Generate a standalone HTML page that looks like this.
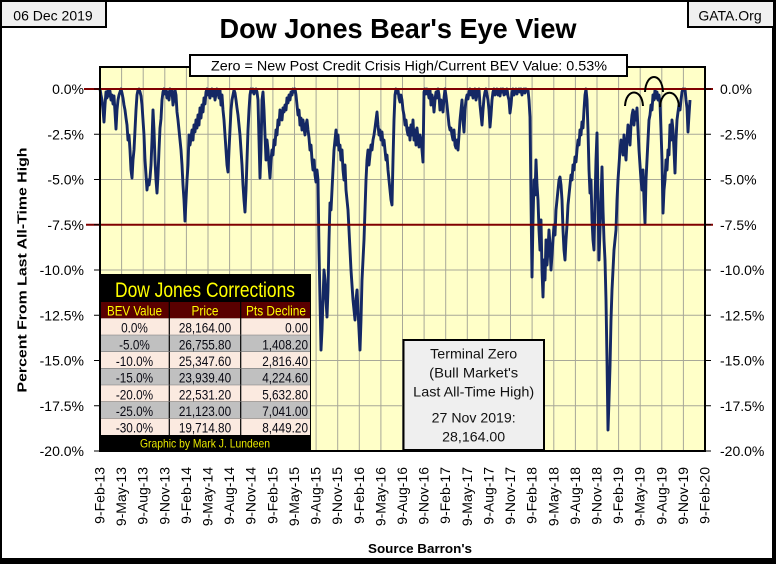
<!DOCTYPE html>
<html><head><meta charset="utf-8"><style>
html,body{margin:0;padding:0;background:#fff;}
svg{display:block;font-family:"Liberation Sans",Arial,sans-serif;}
</style></head><body>
<svg width="776" height="564" viewBox="0 0 776 564" xmlns="http://www.w3.org/2000/svg">
<rect x="0" y="0" width="776" height="564" fill="#fff"/>
<!-- outer border -->
<rect x="1" y="1" width="772" height="559" fill="none" stroke="#000" stroke-width="2"/>
<rect x="772" y="0" width="4" height="564" fill="#000"/>
<rect x="0" y="558" width="776" height="6" fill="#000"/>

<!-- header boxes -->
<rect x="1" y="1" width="105" height="26" fill="#f0f0f0" stroke="#000" stroke-width="2"/>
<text x="53" y="20.5" font-size="14" text-anchor="middle" fill="#000">06 Dec 2019</text>
<rect x="688" y="1" width="86" height="26" fill="#f0f0f0" stroke="#000" stroke-width="2"/>
<text x="730" y="20.5" font-size="14" text-anchor="middle" fill="#000">GATA.Org</text>
<text x="398" y="38" font-size="28" font-weight="bold" text-anchor="middle" textLength="357" lengthAdjust="spacingAndGlyphs">Dow Jones Bear's Eye View</text>

<!-- plot area -->
<rect x="100" y="67" width="605" height="384" fill="#FFFFC8"/>
<g stroke="#a8a898" stroke-width="1">
<line x1="121.6" y1="67" x2="121.6" y2="451"/><line x1="143.2" y1="67" x2="143.2" y2="451"/><line x1="164.8" y1="67" x2="164.8" y2="451"/><line x1="186.4" y1="67" x2="186.4" y2="451"/><line x1="208" y1="67" x2="208" y2="451"/><line x1="229.6" y1="67" x2="229.6" y2="451"/><line x1="251.2" y1="67" x2="251.2" y2="451"/><line x1="272.9" y1="67" x2="272.9" y2="451"/><line x1="294.5" y1="67" x2="294.5" y2="451"/><line x1="316.1" y1="67" x2="316.1" y2="451"/><line x1="337.7" y1="67" x2="337.7" y2="451"/><line x1="359.3" y1="67" x2="359.3" y2="451"/><line x1="380.9" y1="67" x2="380.9" y2="451"/><line x1="402.5" y1="67" x2="402.5" y2="451"/><line x1="424.1" y1="67" x2="424.1" y2="451"/><line x1="445.7" y1="67" x2="445.7" y2="451"/><line x1="467.3" y1="67" x2="467.3" y2="451"/><line x1="488.9" y1="67" x2="488.9" y2="451"/><line x1="510.5" y1="67" x2="510.5" y2="451"/><line x1="532.1" y1="67" x2="532.1" y2="451"/><line x1="553.8" y1="67" x2="553.8" y2="451"/><line x1="575.4" y1="67" x2="575.4" y2="451"/><line x1="597" y1="67" x2="597" y2="451"/><line x1="618.6" y1="67" x2="618.6" y2="451"/><line x1="640.2" y1="67" x2="640.2" y2="451"/><line x1="661.8" y1="67" x2="661.8" y2="451"/><line x1="683.4" y1="67" x2="683.4" y2="451"/>
<line x1="100" y1="134.25" x2="705" y2="134.25"/><line x1="100" y1="179.5" x2="705" y2="179.5"/><line x1="100" y1="270" x2="705" y2="270"/><line x1="100" y1="315.25" x2="705" y2="315.25"/><line x1="100" y1="360.5" x2="705" y2="360.5"/><line x1="100" y1="405.75" x2="705" y2="405.75"/>
</g>

<!-- series -->
<polyline fill="none" stroke="#142864" stroke-width="2.9" stroke-linejoin="round" points="
100,89 101,95 102,100 103,110 104,122 105,105 106,92 107,98 108,90 109,96 110,91 111,100 112,95 113,104 114,96 115,112 116,129 117,110 118,100 119,95 120,92 121,89 122,93 123,98 124,105 125,110 126,118 127,125 128,140 129,135 130,150 131,170 132,178 133,160 134,150 135,130 136,110 137,95 138,90 139,89 140,92 141,96 142,105 143,120 144,135 145,160 146,175 147,190 148,180 149,185 150,178 151,165 152,140 153,110 154,130 155,160 156,180 157,193 158,175 159,150 160,128 161,119 162,100 163,92 164,89 165,94 166,90 167,98 168,92 169,100 170,89 171,95 172,91 173,105 174,99 175,90 176,95 177,112 178,120 179,130 180,140 181,150 182,165 183,185 184,200 185,221 186,200 187,180 188,165 189,135 190,145 191,138 192,130 193,140 194,125 195,132 196,120 197,128 198,115 199,125 200,108 201,118 202,105 203,112 204,98 205,104 206,92 207,89 208,95 209,90 210,98 211,92 212,89 213,96 214,90 215,100 216,94 217,89 218,92 219,98 220,90 221,105 222,95 223,110 224,120 225,135 226,150 227,165 228,172 229,150 230,130 231,110 232,100 233,95 234,90 235,93 236,100 237,108 238,115 239,125 240,135 241,150 242,165 243,185 244,200 245,212 246,190 247,160 248,130 249,110 250,95 251,89 252,92 253,89 254,94 255,90 256,89 257,92 258,100 259,140 260,178
261,150 262,100 263,92 264,110 265,135 266,160 267,140 268,150 269,165 270,178 271,160 272,150 273,155 274,140 275,145 276,130 277,135 278,120 279,125 280,110 281,115 282,120 283,108 284,112 285,105 286,110 287,98 288,103 289,95 290,100 291,92 292,95 293,89 294,92 295,89 296,95 297,105 298,115 299,110 300,125 301,118 302,130 303,120 304,128 305,135 306,125 307,120 308,130 309,138 310,150 311,145 312,160 313,170 314,160 315,175 316,182 317,170 318,180 319,250 320,300 321,350 322,330 323,300 324,270 325,280 326,300 327,317 328,290 329,240 330,203 331,210 332,190 333,170 334,150 335,140 336,130 337,145 338,135 339,150 340,145 341,160 342,150 343,170 344,180 345,165 346,190 347,200 348,210 349,230 350,250 351,270 352,285 353,300 354,310 355,320 356,300 357,290 358,310 359,330 360,350 361,320 362,280 363,260 364,240 365,210 366,180 367,160 368,150 369,165 370,155 371,145 372,150 373,140 374,135 375,128 376,120 377,112 378,125 379,135 380,130 381,140 382,132 383,145 384,140 385,150 386,160 387,155 388,170 389,180 390,190 391,200 392,205 393,160 394,120 395,95 396,89 397,93 398,90 399,98 400,102 401,95 402,100 403,110 404,115 405,125 406,120 407,130 408,135 409,128 410,140
411,125 412,135 413,120 414,140 415,130 416,145 417,128 418,138 419,147 420,135 421,140 422,150 423,162 424,92 425,89 426,94 427,89 428,92 429,98 430,90 431,105 432,95 433,100 434,112 435,100 436,92 437,98 438,89 439,95 440,110 441,100 442,105 443,112 444,98 445,89 446,96 447,105 448,115 449,125 450,130 451,128 452,135 453,140 454,130 455,145 456,148 457,140 458,150 459,135 460,120 461,110 462,100 463,120 464,132 465,110 466,100 467,95 468,99 469,92 470,89 471,95 472,90 473,98 474,92 475,89 476,100 477,95 478,90 479,89 480,105 481,115 482,125 483,110 484,98 485,92 486,89 487,95 488,100 489,110 490,127 491,115 492,100 493,92 494,89 495,95 496,91 497,89 498,95 499,90 500,96 501,89 502,92 503,89 504,95 505,90 506,94 507,89 508,96 509,100 510,113 511,105 512,93 513,89 514,95 515,91 516,89 517,94 518,90 519,89 520,92 521,89 522,95 523,90 524,89 525,93 526,89 527,91 528,90 529,100 530,117 531,200 532,277 533,220 534,180 535,195 536,160 537,185 538,200 539,230 540,250 541,220 542,270 543,297 544,260 545,280 546,240 547,265 548,250 549,230 550,245 551,270 552,255 553,240 554,225 555,235 556,210 557,200 558,190 559,180 560,177
561,185 562,200 563,230 564,250 565,260 566,240 567,225 568,205 569,195 570,185 571,175 572,180 573,165 574,170 575,157 576,162 577,150 578,140 579,145 580,130 581,135 582,122 583,128 584,110 585,95 586,89 587,100 588,130 589,170 590,193 591,180 592,220 593,240 594,250 595,200 596,160 597,133 598,200 599,260 600,230 601,200 602,167 603,210 604,240 605,260 606,300 607,360 608,430 609,400 610,367 611,320 612,290 613,270 614,250 615,240 616,230 617,200 618,180 619,165 620,150 621,140 622,145 623,155 624,135 625,150 626,160 627,140 628,125 629,135 630,145 631,125 632,115 633,110 634,125 635,112 636,120 637,108 638,130 639,150 640,165 641,180 642,190 643,170 644,200 645,223 646,180 647,160 648,140 649,120 650,115 651,105 652,110 653,95 654,100 655,90 656,98 657,92 658,100 659,95 660,103 661,130 662,160 663,213 664,190 665,180 666,160 667,170 668,150 669,155 670,125 671,140 672,120 673,130 674,150 675,173 676,140 677,120 678,112 679,105 680,110 681,100 682,92 683,89 684,90 685,89 686,100 687,108 688,132 689,115 690,100"/>

<!-- red reference lines -->
<line x1="84" y1="89" x2="713" y2="89" stroke="#800000" stroke-width="2"/>
<line x1="86" y1="224.75" x2="713" y2="224.75" stroke="#800000" stroke-width="2"/>

<!-- arcs -->
<g fill="none" stroke="#000" stroke-width="2">
<path d="M625,106 C626,88 642,88 643,106"/>
<path d="M645,92 C646,72 662,72 663,92"/>
<path d="M660,107 C661,88 678,88 679,107"/>
</g>

<!-- plot border -->
<rect x="100" y="67" width="605" height="384" fill="none" stroke="#000" stroke-width="2"/>

<!-- ticks -->
<g stroke="#000" stroke-width="1">
<line x1="94" y1="89" x2="100" y2="89"/><line x1="94" y1="134.25" x2="100" y2="134.25"/><line x1="94" y1="179.5" x2="100" y2="179.5"/><line x1="94" y1="224.75" x2="100" y2="224.75"/><line x1="94" y1="270" x2="100" y2="270"/><line x1="94" y1="315.25" x2="100" y2="315.25"/><line x1="94" y1="360.5" x2="100" y2="360.5"/><line x1="94" y1="405.75" x2="100" y2="405.75"/><line x1="94" y1="451" x2="100" y2="451"/>
<line x1="705" y1="89" x2="711" y2="89"/><line x1="705" y1="134.25" x2="711" y2="134.25"/><line x1="705" y1="179.5" x2="711" y2="179.5"/><line x1="705" y1="224.75" x2="711" y2="224.75"/><line x1="705" y1="270" x2="711" y2="270"/><line x1="705" y1="315.25" x2="711" y2="315.25"/><line x1="705" y1="360.5" x2="711" y2="360.5"/><line x1="705" y1="405.75" x2="711" y2="405.75"/><line x1="705" y1="451" x2="711" y2="451"/>
</g>

<!-- left y labels -->
<g font-size="14" text-anchor="end" fill="#000">
<text x="84" y="94">0.0%</text><text x="84" y="139.25">-2.5%</text><text x="84" y="184.5">-5.0%</text><text x="84" y="229.75">-7.5%</text><text x="84" y="275">-10.0%</text><text x="84" y="320.25">-12.5%</text><text x="84" y="365.5">-15.0%</text><text x="84" y="410.75">-17.5%</text><text x="84" y="456">-20.0%</text>
</g>
<!-- right y labels -->
<g font-size="14" text-anchor="start" fill="#000">
<text x="720" y="94">0.0%</text><text x="720" y="139.25">-2.5%</text><text x="720" y="184.5">-5.0%</text><text x="720" y="229.75">-7.5%</text><text x="720" y="275">-10.0%</text><text x="720" y="320.25">-12.5%</text><text x="720" y="365.5">-15.0%</text><text x="720" y="410.75">-17.5%</text><text x="720" y="456">-20.0%</text>
</g>

<!-- x labels -->
<g font-size="14" text-anchor="end" fill="#000">
<text transform="translate(104.5,467) rotate(-90)">9-Feb-13</text>
<text transform="translate(126.1,467) rotate(-90)">9-May-13</text>
<text transform="translate(147.7,467) rotate(-90)">9-Aug-13</text>
<text transform="translate(169.3,467) rotate(-90)">9-Nov-13</text>
<text transform="translate(190.9,467) rotate(-90)">9-Feb-14</text>
<text transform="translate(212.5,467) rotate(-90)">9-May-14</text>
<text transform="translate(234.1,467) rotate(-90)">9-Aug-14</text>
<text transform="translate(255.7,467) rotate(-90)">9-Nov-14</text>
<text transform="translate(277.4,467) rotate(-90)">9-Feb-15</text>
<text transform="translate(299,467) rotate(-90)">9-May-15</text>
<text transform="translate(320.6,467) rotate(-90)">9-Aug-15</text>
<text transform="translate(342.2,467) rotate(-90)">9-Nov-15</text>
<text transform="translate(363.8,467) rotate(-90)">9-Feb-16</text>
<text transform="translate(385.4,467) rotate(-90)">9-May-16</text>
<text transform="translate(407,467) rotate(-90)">9-Aug-16</text>
<text transform="translate(428.6,467) rotate(-90)">9-Nov-16</text>
<text transform="translate(450.2,467) rotate(-90)">9-Feb-17</text>
<text transform="translate(471.8,467) rotate(-90)">9-May-17</text>
<text transform="translate(493.4,467) rotate(-90)">9-Aug-17</text>
<text transform="translate(515,467) rotate(-90)">9-Nov-17</text>
<text transform="translate(536.6,467) rotate(-90)">9-Feb-18</text>
<text transform="translate(558.3,467) rotate(-90)">9-May-18</text>
<text transform="translate(579.9,467) rotate(-90)">9-Aug-18</text>
<text transform="translate(601.5,467) rotate(-90)">9-Nov-18</text>
<text transform="translate(623.1,467) rotate(-90)">9-Feb-19</text>
<text transform="translate(644.7,467) rotate(-90)">9-May-19</text>
<text transform="translate(666.3,467) rotate(-90)">9-Aug-19</text>
<text transform="translate(687.9,467) rotate(-90)">9-Nov-19</text>
<text transform="translate(709.5,467) rotate(-90)">9-Feb-20</text>
</g>

<!-- axis titles -->
<text transform="translate(26.5,270) rotate(-90)" font-size="13" font-weight="bold" text-anchor="middle" textLength="245" lengthAdjust="spacingAndGlyphs">Percent From Last All-Time High</text>
<text x="420" y="553" font-size="13" font-weight="bold" text-anchor="middle" textLength="104" lengthAdjust="spacingAndGlyphs">Source Barron's</text>

<!-- top text box -->
<rect x="190" y="55" width="437" height="21" fill="#fff" stroke="#000" stroke-width="2"/>
<text x="409" y="70.5" font-size="14" text-anchor="middle" textLength="396" lengthAdjust="spacingAndGlyphs">Zero = New Post Credit Crisis High/Current BEV Value:  0.53%</text>

<!-- legend table -->
<rect x="100" y="274" width="211" height="177" fill="#000"/>
<text x="205" y="297" font-size="21" fill="#FFFF00" text-anchor="middle" textLength="180" lengthAdjust="spacingAndGlyphs">Dow Jones Corrections</text>
<rect x="101" y="302" width="209" height="16.3" fill="#5a0000"/>
<g font-size="14" fill="#FFFF00" text-anchor="middle">
<text x="134.5" y="315.7" textLength="55" lengthAdjust="spacingAndGlyphs">BEV Value</text>
<text x="205" y="315.7" textLength="27" lengthAdjust="spacingAndGlyphs">Price</text>
<text x="276" y="315.7" textLength="60" lengthAdjust="spacingAndGlyphs">Pts Decline</text>
</g>
<rect x="101" y="318.3" width="209" height="16.7" fill="#FBEAE0"/>
<rect x="101" y="335" width="209" height="16.7" fill="#C0C0C0"/>
<rect x="101" y="351.7" width="209" height="16.7" fill="#FBEAE0"/>
<rect x="101" y="368.3" width="209" height="16.7" fill="#C0C0C0"/>
<rect x="101" y="385" width="209" height="16.7" fill="#FBEAE0"/>
<rect x="101" y="401.7" width="209" height="16.7" fill="#C0C0C0"/>
<rect x="101" y="418.3" width="209" height="16.7" fill="#FBEAE0"/>
<g stroke="#000" stroke-width="1.2">
<line x1="169.3" y1="302" x2="169.3" y2="435"/>
<line x1="240.7" y1="302" x2="240.7" y2="435"/>
</g>
<g stroke="#777" stroke-width="0.6">
<line x1="101" y1="335" x2="310" y2="335"/><line x1="101" y1="351.7" x2="310" y2="351.7"/><line x1="101" y1="368.3" x2="310" y2="368.3"/><line x1="101" y1="385" x2="310" y2="385"/><line x1="101" y1="401.7" x2="310" y2="401.7"/><line x1="101" y1="418.3" x2="310" y2="418.3"/>
</g>
<g font-size="14" fill="#0a0a14">
<g text-anchor="middle">
<text x="134.5" y="332.7" textLength="26.8" lengthAdjust="spacingAndGlyphs">0.0%</text>
<text x="134.5" y="349.4" textLength="30.7" lengthAdjust="spacingAndGlyphs">-5.0%</text>
<text x="134.5" y="366" textLength="37.3" lengthAdjust="spacingAndGlyphs">-10.0%</text>
<text x="134.5" y="382.7" textLength="37.3" lengthAdjust="spacingAndGlyphs">-15.0%</text>
<text x="134.5" y="399.4" textLength="37.3" lengthAdjust="spacingAndGlyphs">-20.0%</text>
<text x="134.5" y="416" textLength="37.3" lengthAdjust="spacingAndGlyphs">-25.0%</text>
<text x="134.5" y="432.7" textLength="37.3" lengthAdjust="spacingAndGlyphs">-30.0%</text>
<text x="205" y="332.7" textLength="52.3" lengthAdjust="spacingAndGlyphs">28,164.00</text>
<text x="205" y="349.4" textLength="52.3" lengthAdjust="spacingAndGlyphs">26,755.80</text>
<text x="205" y="366" textLength="52.3" lengthAdjust="spacingAndGlyphs">25,347.60</text>
<text x="205" y="382.7" textLength="52.3" lengthAdjust="spacingAndGlyphs">23,939.40</text>
<text x="205" y="399.4" textLength="52.3" lengthAdjust="spacingAndGlyphs">22,531.20</text>
<text x="205" y="416" textLength="52.3" lengthAdjust="spacingAndGlyphs">21,123.00</text>
<text x="205" y="432.7" textLength="52.3" lengthAdjust="spacingAndGlyphs">19,714.80</text>
</g>
<g text-anchor="end">
<text x="308" y="332.7" textLength="22.9" lengthAdjust="spacingAndGlyphs">0.00</text>
<text x="308" y="349.4" textLength="45.8" lengthAdjust="spacingAndGlyphs">1,408.20</text>
<text x="308" y="366" textLength="45.8" lengthAdjust="spacingAndGlyphs">2,816.40</text>
<text x="308" y="382.7" textLength="45.8" lengthAdjust="spacingAndGlyphs">4,224.60</text>
<text x="308" y="399.4" textLength="45.8" lengthAdjust="spacingAndGlyphs">5,632.80</text>
<text x="308" y="416" textLength="45.8" lengthAdjust="spacingAndGlyphs">7,041.00</text>
<text x="308" y="432.7" textLength="45.8" lengthAdjust="spacingAndGlyphs">8,449.20</text>
</g>
</g>
<text x="205" y="447.5" font-size="12" fill="#E8E800" text-anchor="middle" textLength="130" lengthAdjust="spacingAndGlyphs">Graphic by Mark J. Lundeen</text>

<!-- terminal zero box -->
<rect x="403.5" y="340" width="140.5" height="110" fill="#EFEFEF" stroke="#000" stroke-width="2"/>
<g font-size="14" text-anchor="middle" fill="#111">
<text x="473.7" y="358.3" textLength="87" lengthAdjust="spacingAndGlyphs">Terminal Zero</text>
<text x="473.7" y="377.5" textLength="89" lengthAdjust="spacingAndGlyphs">(Bull Market's</text>
<text x="473.7" y="396.7" textLength="121" lengthAdjust="spacingAndGlyphs">Last All-Time High)</text>
<text x="473.7" y="422.7" textLength="84" lengthAdjust="spacingAndGlyphs">27 Nov 2019:</text>
<text x="473.7" y="441.7" textLength="63" lengthAdjust="spacingAndGlyphs">28,164.00</text>
</g>
</svg>
</body></html>
